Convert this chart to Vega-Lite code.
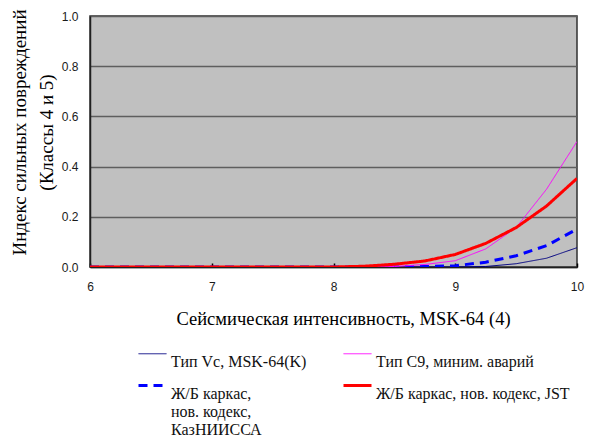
{
  "$schema": "https://vega.github.io/schema/vega-lite/v6.json",
  "width": 487,
  "height": 251,
  "autosize": {"type": "none"},
  "padding": {"left": 90, "top": 16, "right": 13, "bottom": 170},
  "background": "#ffffff",
  "config": {
    "view": {"fill": "#c0c0c0", "stroke": "#303030", "strokeWidth": 1.5},
    "axis": {
      "labelFont": "Liberation Sans",
      "labelFontSize": 12,
      "labelColor": "#1a1a1a",
      "titleFont": "Liberation Serif",
      "titleFontWeight": "normal",
      "titleColor": "#000000",
      "domainColor": "#202020",
      "domainWidth": 1.5
    },
    "legend": {
      "labelFont": "Liberation Serif",
      "labelFontSize": 16,
      "labelColor": "#111111"
    }
  },
  "data": {
    "values": [
      {"i": 6, "s": "Тип Vc, MSK-64(K)", "v": 0},
      {"i": 6.5, "s": "Тип Vc, MSK-64(K)", "v": 0},
      {"i": 7, "s": "Тип Vc, MSK-64(K)", "v": 0},
      {"i": 7.5, "s": "Тип Vc, MSK-64(K)", "v": 0},
      {"i": 8, "s": "Тип Vc, MSK-64(K)", "v": 0},
      {"i": 8.25, "s": "Тип Vc, MSK-64(K)", "v": 0},
      {"i": 8.5, "s": "Тип Vc, MSK-64(K)", "v": 0},
      {"i": 8.75, "s": "Тип Vc, MSK-64(K)", "v": 0},
      {"i": 9, "s": "Тип Vc, MSK-64(K)", "v": 0},
      {"i": 9.25, "s": "Тип Vc, MSK-64(K)", "v": 0.002},
      {"i": 9.5, "s": "Тип Vc, MSK-64(K)", "v": 0.013},
      {"i": 9.75, "s": "Тип Vc, MSK-64(K)", "v": 0.035},
      {"i": 10, "s": "Тип Vc, MSK-64(K)", "v": 0.077},

      {"i": 6, "s": "Ж/Б каркас, нов. кодекс, КазНИИССА", "v": 0},
      {"i": 6.5, "s": "Ж/Б каркас, нов. кодекс, КазНИИССА", "v": 0},
      {"i": 7, "s": "Ж/Б каркас, нов. кодекс, КазНИИССА", "v": 0},
      {"i": 7.5, "s": "Ж/Б каркас, нов. кодекс, КазНИИССА", "v": 0},
      {"i": 8, "s": "Ж/Б каркас, нов. кодекс, КазНИИССА", "v": 0},
      {"i": 8.25, "s": "Ж/Б каркас, нов. кодекс, КазНИИССА", "v": 0},
      {"i": 8.5, "s": "Ж/Б каркас, нов. кодекс, КазНИИССА", "v": 0},
      {"i": 8.75, "s": "Ж/Б каркас, нов. кодекс, КазНИИССА", "v": 0.002},
      {"i": 9, "s": "Ж/Б каркас, нов. кодекс, КазНИИССА", "v": 0.005},
      {"i": 9.25, "s": "Ж/Б каркас, нов. кодекс, КазНИИССА", "v": 0.019},
      {"i": 9.5, "s": "Ж/Б каркас, нов. кодекс, КазНИИССА", "v": 0.045},
      {"i": 9.75, "s": "Ж/Б каркас, нов. кодекс, КазНИИССА", "v": 0.085},
      {"i": 10, "s": "Ж/Б каркас, нов. кодекс, КазНИИССА", "v": 0.151},

      {"i": 6, "s": "Тип C9, миним. аварий", "v": 0},
      {"i": 6.5, "s": "Тип C9, миним. аварий", "v": 0},
      {"i": 7, "s": "Тип C9, миним. аварий", "v": 0},
      {"i": 7.5, "s": "Тип C9, миним. аварий", "v": 0},
      {"i": 8, "s": "Тип C9, миним. аварий", "v": 0},
      {"i": 8.25, "s": "Тип C9, миним. аварий", "v": 0},
      {"i": 8.5, "s": "Тип C9, миним. аварий", "v": 0.002},
      {"i": 8.75, "s": "Тип C9, миним. аварий", "v": 0.01},
      {"i": 9, "s": "Тип C9, миним. аварий", "v": 0.025},
      {"i": 9.25, "s": "Тип C9, миним. аварий", "v": 0.072},
      {"i": 9.5, "s": "Тип C9, миним. аварий", "v": 0.157},
      {"i": 9.75, "s": "Тип C9, миним. аварий", "v": 0.31},
      {"i": 10, "s": "Тип C9, миним. аварий", "v": 0.5},

      {"i": 6, "s": "Ж/Б каркас, нов. кодекс, JST", "v": 0},
      {"i": 6.5, "s": "Ж/Б каркас, нов. кодекс, JST", "v": 0},
      {"i": 7, "s": "Ж/Б каркас, нов. кодекс, JST", "v": 0},
      {"i": 7.5, "s": "Ж/Б каркас, нов. кодекс, JST", "v": 0},
      {"i": 8, "s": "Ж/Б каркас, нов. кодекс, JST", "v": 0},
      {"i": 8.25, "s": "Ж/Б каркас, нов. кодекс, JST", "v": 0.003},
      {"i": 8.5, "s": "Ж/Б каркас, нов. кодекс, JST", "v": 0.011},
      {"i": 8.75, "s": "Ж/Б каркас, нов. кодекс, JST", "v": 0.024},
      {"i": 9, "s": "Ж/Б каркас, нов. кодекс, JST", "v": 0.05},
      {"i": 9.25, "s": "Ж/Б каркас, нов. кодекс, JST", "v": 0.094},
      {"i": 9.5, "s": "Ж/Б каркас, нов. кодекс, JST", "v": 0.157},
      {"i": 9.75, "s": "Ж/Б каркас, нов. кодекс, JST", "v": 0.243},
      {"i": 10, "s": "Ж/Б каркас, нов. кодекс, JST", "v": 0.353}
    ]
  },
  "mark": {"type": "line", "clip": true},
  "encoding": {
    "x": {
      "field": "i",
      "type": "quantitative",
      "scale": {"domain": [6, 10], "nice": false, "zero": false},
      "axis": {
        "values": [6, 7, 8, 9, 10],
        "format": "d",
        "grid": false,
        "tickSize": -4,
        "tickColor": "#000000",
        "tickWidth": 1.5,
        "labelPadding": 18,
        "labelFlush": false,
        "title": "Сейсмическая интенсивность, MSK-64 (4)",
        "titleFontSize": 18.5,
        "titleX": 253,
        "titleY": 57,
        "titleBaseline": "alphabetic"
      }
    },
    "y": {
      "field": "v",
      "type": "quantitative",
      "scale": {"domain": [0, 1], "nice": false},
      "axis": {
        "values": [0, 0.2, 0.4, 0.6, 0.8, 1.0],
        "format": ".1f",
        "ticks": false,
        "labelPadding": 12,
        "grid": true,
        "gridColor": "#5e5e5e",
        "gridWidth": 1.5,
        "title": ["Индекс сильных повреждений", "(Классы 4 и 5)"],
        "titleFontSize": 19,
        "titleLineHeight": 27,
        "titleAngle": -90,
        "titleAlign": "center",
        "titleBaseline": "alphabetic",
        "titleX": -65,
        "titleY": 116
      }
    },
    "detail": {"field": "s"},
    "color": {
      "field": "s",
      "type": "nominal",
      "title": null,
      "scale": {
        "domain": ["Тип Vc, MSK-64(K)", "Тип C9, миним. аварий", "Ж/Б каркас, нов. кодекс, КазНИИССА", "Ж/Б каркас, нов. кодекс, JST"],
        "range": ["#000080", "#ff00ff", "#0000ff", "#ff0000"]
      },
      "legend": {
        "orient": "none",
        "direction": "horizontal",
        "legendX": 47,
        "legendY": 323,
        "columns": 2,
        "columnPadding": 30,
        "rowPadding": 0,
        "padding": 0,
        "symbolType": "stroke",
        "symbolSize": 784,
        "labelOffset": 3,
        "labelBaseline": "top",
        "labelLimit": 260,
        "labelExpr": "datum.label == 'Ж/Б каркас, нов. кодекс, КазНИИССА' ? ['Ж/Б каркас,', 'нов. кодекс,', 'КазНИИССА'] : datum.label == 'Ж/Б каркас, нов. кодекс, JST' ? ['Ж/Б каркас,  нов. кодекс,  JST', ' ', ' '] : datum.label == 'Тип C9, миним. аварий' ? 'Тип  C9,  миним. аварий' : datum.label"
      }
    },
    "strokeDash": {
      "field": "s",
      "type": "nominal",
      "title": null,
      "scale": {
        "domain": ["Тип Vc, MSK-64(K)", "Тип C9, миним. аварий", "Ж/Б каркас, нов. кодекс, КазНИИССА", "Ж/Б каркас, нов. кодекс, JST"],
        "range": [[1, 0], [1, 0], [9, 6], [1, 0]]
      }
    },
    "strokeWidth": {
      "field": "s",
      "type": "nominal",
      "title": null,
      "scale": {
        "type": "ordinal",
        "domain": ["Тип Vc, MSK-64(K)", "Тип C9, миним. аварий", "Ж/Б каркас, нов. кодекс, КазНИИССА", "Ж/Б каркас, нов. кодекс, JST"],
        "range": [1, 1, 3, 3]
      }
    }
  }
}
